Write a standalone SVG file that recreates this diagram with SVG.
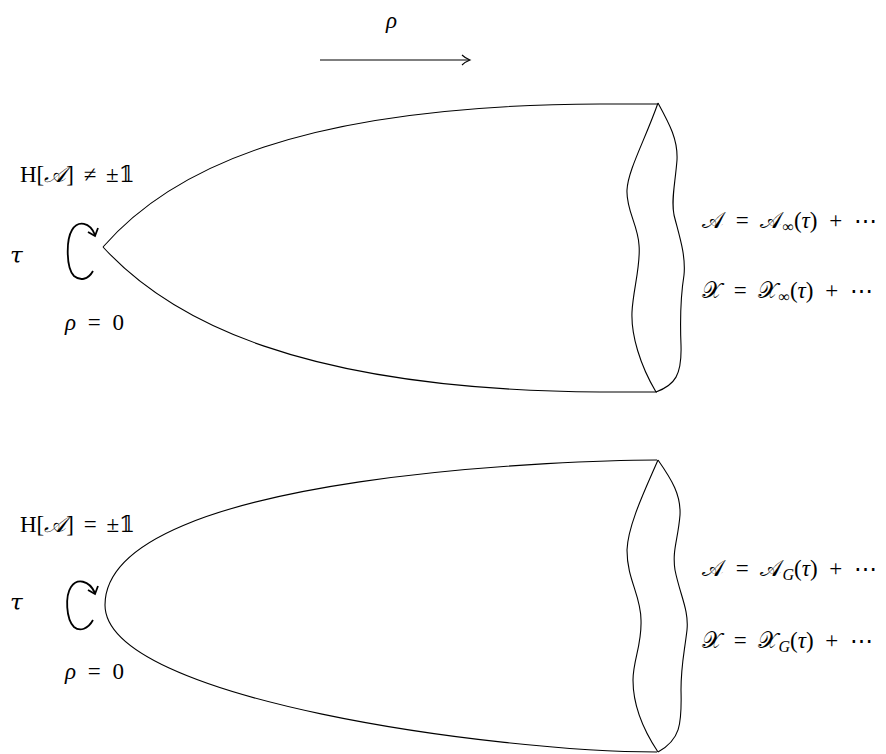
<svg xmlns="http://www.w3.org/2000/svg" width="886" height="754" viewBox="0 0 886 754">
<style>
.ln{fill:none;stroke:#000;stroke-width:1.1}
.ar{fill:none;stroke:#000;stroke-width:1.8}
.t{font-family:"Liberation Serif","DejaVu Serif",serif;font-size:23px;fill:#000}
.i{font-style:italic}
.s{font-size:16px}
.tau{font-family:"DejaVu Serif",serif;font-style:italic;font-size:23px}
.r{word-spacing:6px}
.l{word-spacing:4px}
</style>
<rect width="886" height="754" fill="#fff"/>
<g id="rho-arrow">
<text class="t i" x="386" y="28">ρ</text>
<line class="ln" x1="320" y1="60" x2="469" y2="60" stroke-width="1.6"/>
<path class="ln" d="M462,55 Q465,58 470,60 Q465,62 462,65" stroke-width="1.3"/>
</g>
<g id="top-cone">
<path class="ln" d="M103,247 C170,170 300,105 600,104 L657,104"/>
<path class="ln" d="M103,247 C170,320 300,390 600,392 L657,392"/>
<path class="ln" d="M658,103 C645,140 628,170 627,190 C626,210 638,225 639,245 C641,265 633,290 632,312 C631,335 640,365 656,392"/>
<path class="ln" d="M658,103 C670,125 678,140 677,160 C675,185 671,200 674,215 C679,235 686,255 684,275 C680,300 680,320 681,345 C682,375 675,385 656,392"/>
</g>
<g id="top-rot">
<path class="ar" d="M93,271 C88,280 80,281 74,276 C66,268 66,240 72,230 C78,220 90,222 95,235"/>
<path class="ar" d="M88,232 L95,236 L98,228"/>
</g>
<g id="top-labels">
<text class="t l" x="20" y="182">H[<tspan class="i">𝒜</tspan>] ≠ ±𝟙</text>
<text class="t tau" x="10" y="263">τ</text>
<text class="t" x="65" y="330" word-spacing="6"><tspan class="i">ρ</tspan> = 0</text>
<text class="t r" x="702" y="228">𝒜 = 𝒜<tspan class="s" dy="4">∞</tspan><tspan dy="-4">(</tspan><tspan class="i">τ</tspan>) + ⋯</text>
<text class="t r" x="702" y="298">𝒳 = 𝒳<tspan class="s" dy="4">∞</tspan><tspan dy="-4">(</tspan><tspan class="i">τ</tspan>) + ⋯</text>
</g>
<g id="bottom-cone">
<path class="ln" d="M657,460 C600,460 105,470 105,605 C105,700 500,752 657,752"/>
<path class="ln" d="M658,460 C645,490 628,525 627,550 C627,580 641,595 641,620 C642,645 633,660 633,680 C633,700 640,725 658,752"/>
<path class="ln" d="M658,460 C672,480 681,495 680,515 C678,540 672,550 675,570 C680,595 689,610 687,630 C684,655 681,665 681,690 C682,725 680,740 658,752"/>
</g>
<g id="bottom-rot">
<path class="ar" d="M93,620 C88,629 80,632 74,627 C66,619 65,596 71,587 C77,578 89,580 95,593"/>
<path class="ar" d="M88,590 L95,594 L98,586"/>
</g>
<g id="bottom-labels">
<text class="t l" x="20" y="532">H[<tspan class="i">𝒜</tspan>] = ±𝟙</text>
<text class="t tau" x="10" y="610">τ</text>
<text class="t" x="65" y="679" word-spacing="6"><tspan class="i">ρ</tspan> = 0</text>
<text class="t r" x="702" y="576">𝒜 = 𝒜<tspan class="s i" dy="4">G</tspan><tspan dy="-4">(</tspan><tspan class="i">τ</tspan>) + ⋯</text>
<text class="t r" x="702" y="648">𝒳 = 𝒳<tspan class="s i" dy="4">G</tspan><tspan dy="-4">(</tspan><tspan class="i">τ</tspan>) + ⋯</text>
</g>
</svg>
